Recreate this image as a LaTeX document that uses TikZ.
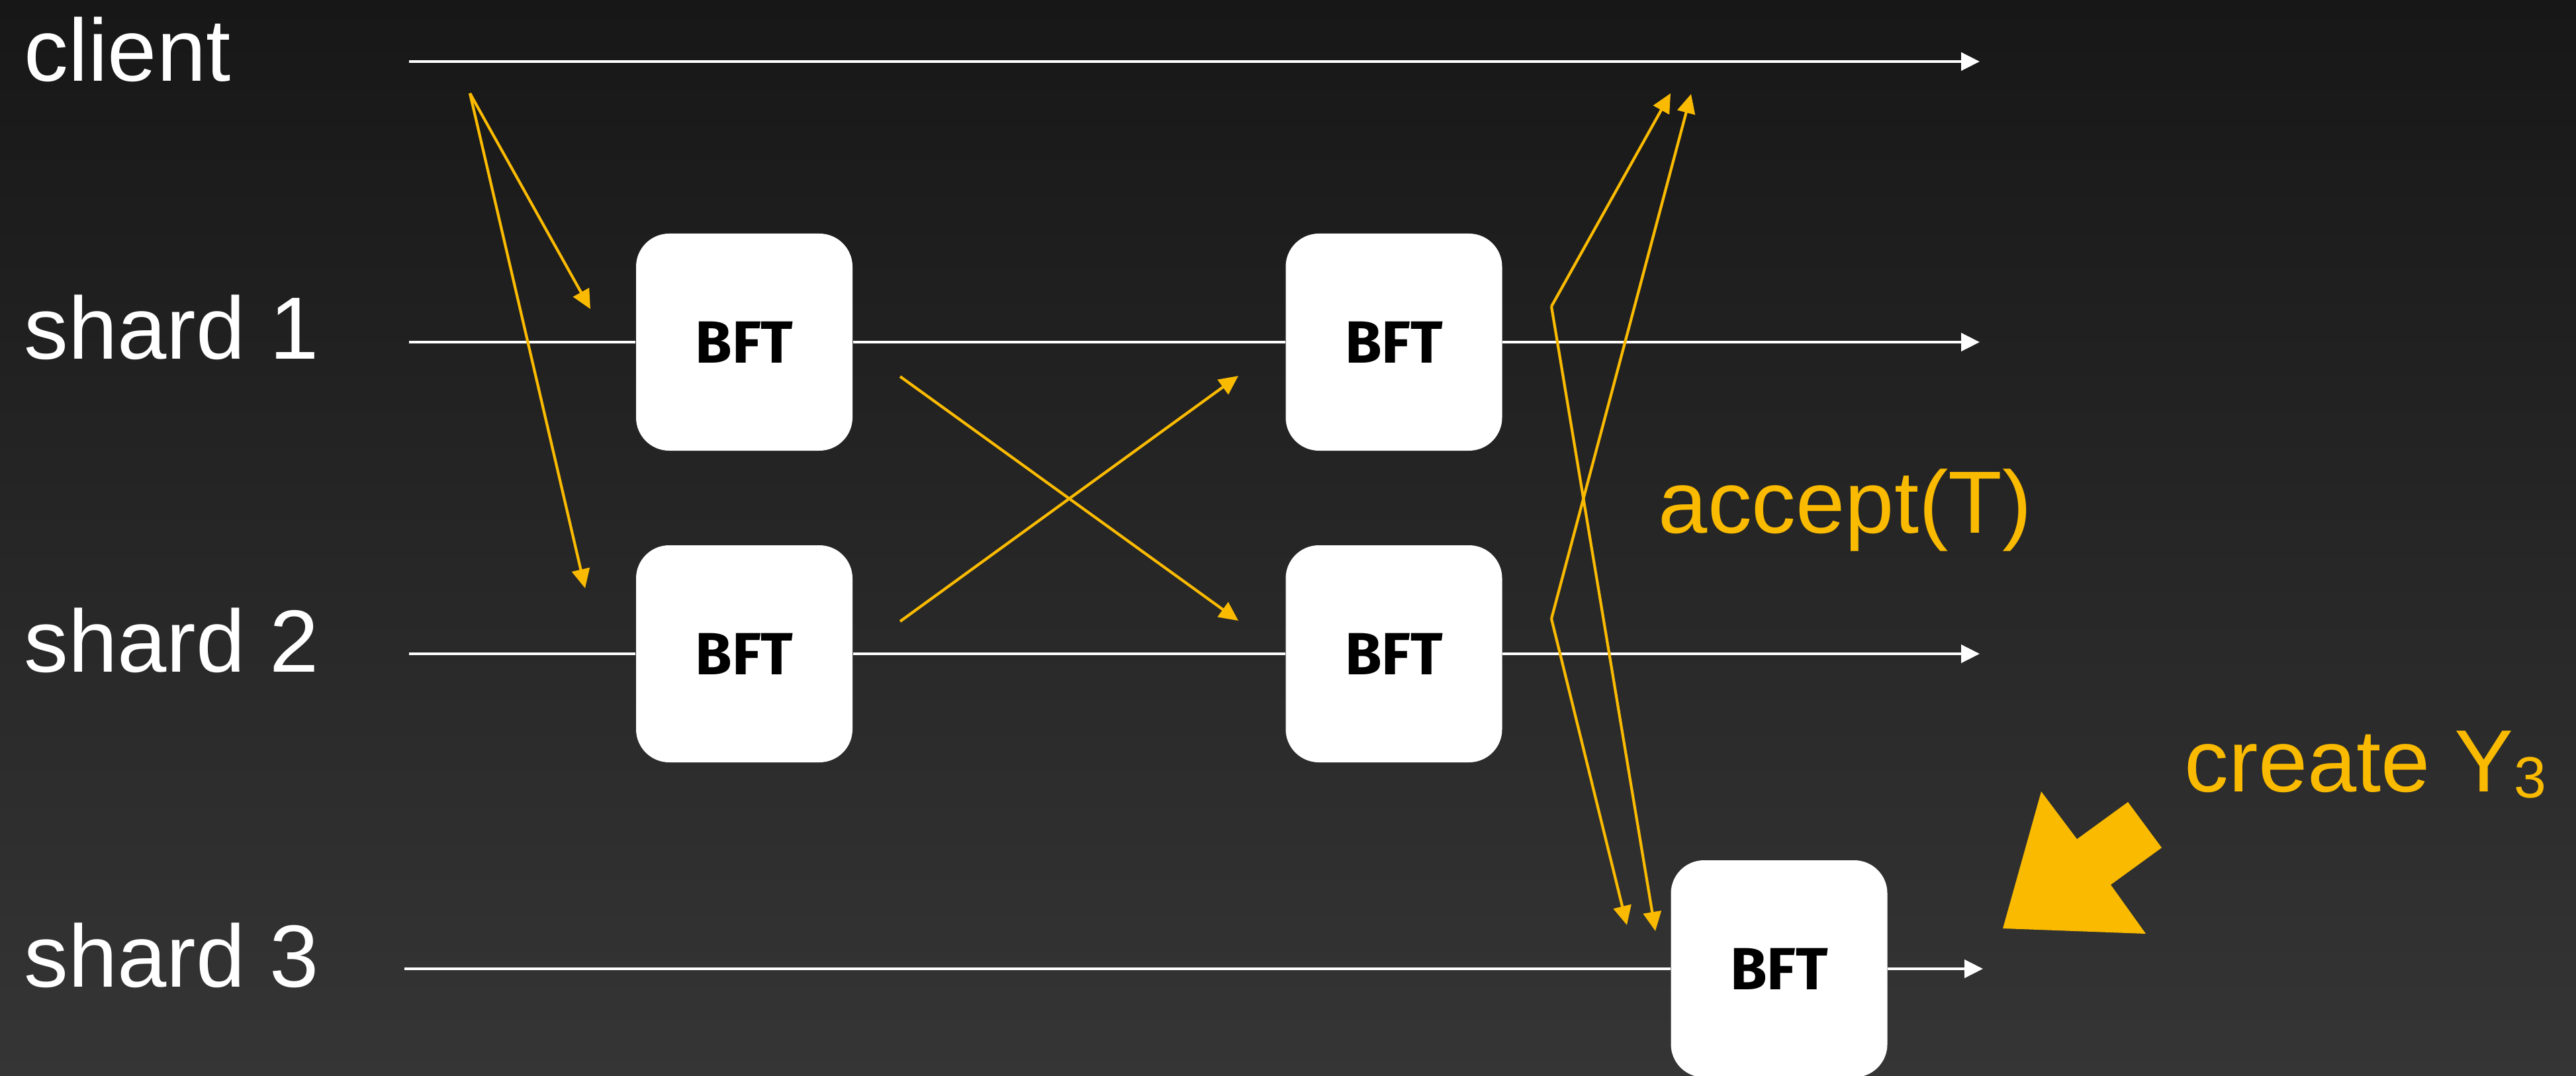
\documentclass[tikz,border=0pt]{standalone}
\usepackage{fontspec}
\setmainfont{Liberation Sans}
\newfontfamily\bftfont{Fira Sans}
\usetikzlibrary{arrows.meta}
\definecolor{accent}{RGB}{249,186,0}
\definecolor{bgtop}{RGB}{23,23,23}
\definecolor{bgbot}{RGB}{53,53,53}

\begin{document}
\begin{tikzpicture}[
  lane/.style={white, line width=0.45mm, -{Triangle[length=2.8mm,width=2.7mm]}},
  lanepart/.style={white, line width=0.45mm},
  msg/.style={accent, line width=0.42mm, -{Triangle[length=2.9mm,width=2.7mm]}},
  bft/.style={fill=white, rounded corners=5mm, minimum width=32.7mm, minimum height=32.8mm,
    inner sep=0, font=\bftfont\bfseries\fontsize{25.6}{26}\selectfont},
  lanename/.style={white, anchor=base west, inner sep=0, font=\fontsize{38}{40}\selectfont}
]
\useasboundingbox (0,0) rectangle (38.92,-16.26);
\shade[top color=bgtop, bottom color=bgbot] (0,0) rectangle (38.92,-16.26);

% lane names
\node[lanename] (client) at (0.36,-1.23) {client};
\node[lanename] (shard1) at (0.36,-5.43) {shard 1};
\node[lanename] (shard2) at (0.36,-10.15) {shard 2};
\node[lanename] (shard3) at (0.36,-14.91) {shard 3};

% BFT rounds
\node[bft] (a1) at (11.245,-5.17) {BFT};
\node[bft] (a2) at (11.245,-9.88) {BFT};
\node[bft] (b1) at (21.06,-5.17) {BFT};
\node[bft] (b2) at (21.06,-9.88) {BFT};
\node[bft] (c3) at (26.88,-14.64) {BFT};

% time lines
\coordinate (s0) at (6.18,-0.93);  \coordinate (e0) at (29.91,-0.93);
\coordinate (s1) at (6.18,-5.17);  \coordinate (e1) at (29.91,-5.17);
\coordinate (s2) at (6.18,-9.88);  \coordinate (e2) at (29.91,-9.88);
\coordinate (s3) at (6.11,-14.64); \coordinate (e3) at (29.96,-14.64);
\draw[lane] (s0) -- (e0);
\draw[lanepart] (s1) -- (a1);
\draw[lanepart] (a1) -- (b1);
\draw[lane] (b1) -- (e1);
\draw[lanepart] (s2) -- (a2);
\draw[lanepart] (a2) -- (b2);
\draw[lane] (b2) -- (e2);
\draw[lanepart] (s3) -- (c3);
\draw[lane] (c3) -- (e3);

% messages
\coordinate (req) at (7.10,-1.41);
\coordinate (in1) at (8.92,-4.67);
\coordinate (in2) at (8.84,-8.89);
\coordinate (out1) at (13.60,-5.69);
\coordinate (out2) at (13.60,-9.39);
\coordinate (x1) at (18.71,-5.68);
\coordinate (x2) at (18.71,-9.38);
\coordinate (v1) at (23.44,-4.63);
\coordinate (v2) at (23.44,-9.35);
\coordinate (r1) at (25.24,-1.41);
\coordinate (r2) at (25.55,-1.42);
\coordinate (y1) at (25.01,-14.07);
\coordinate (y2) at (24.58,-13.98);
\draw[msg] (req) -- (in1);
\draw[msg] (req) -- (in2);
\draw[msg] (out1) -- (x2);
\draw[msg] (out2) -- (x1);
\draw[msg] (v1) -- (r1);
\draw[msg] (v1) -- (y1);
\draw[msg] (v2) -- (r2);
\draw[msg] (v2) -- (y2);

\node[lanename, accent] (accept) at (25.05,-8.05) {accept(T)};
\node[lanename, accent] (create) at (33.0,-11.96) {create Y{\fontsize{25}{26}\selectfont\raisebox{-2.8pt}{3}}};

% big pointer
\fill[accent] (30.26,-14.03) -- (30.84,-11.96) -- (31.38,-12.68) -- (32.15,-12.12)
  -- (32.66,-12.81) -- (31.89,-13.37) -- (32.42,-14.11) -- cycle;
\end{tikzpicture}
\end{document}
